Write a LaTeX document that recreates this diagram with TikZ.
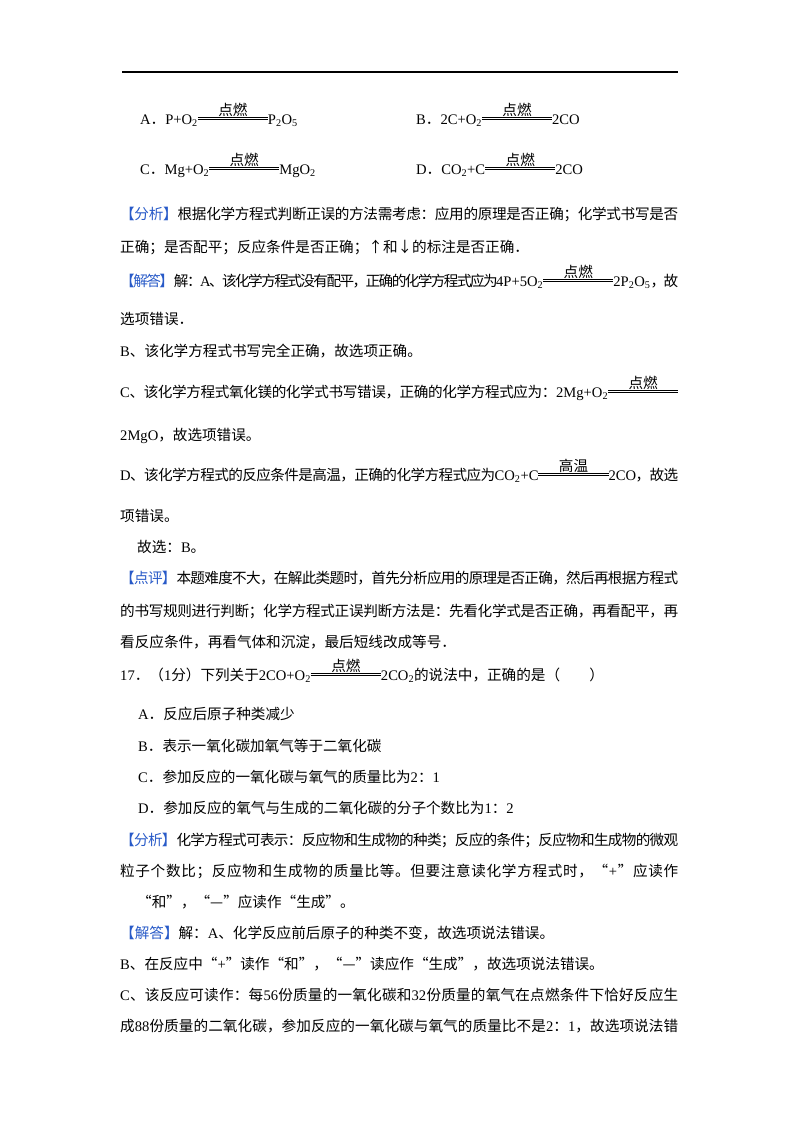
\documentclass[tikz,border=0pt]{standalone}
\usepackage{fontspec}
\setmainfont{Liberation Serif}
\newfontfamily\cjk{Noto Sans CJK SC}
\newfontfamily\lat{Liberation Serif}
\XeTeXinterchartokenstate=1
\newXeTeXintercharclass\cjkclass
\count255="4E00 \loop\XeTeXcharclass\count255=\cjkclass\advance\count255 1 \ifnum\count255<"A000 \repeat
\count255="3000 \loop\XeTeXcharclass\count255=\cjkclass\advance\count255 1 \ifnum\count255<"3040 \repeat
\count255="FF00 \loop\XeTeXcharclass\count255=\cjkclass\advance\count255 1 \ifnum\count255<"FFF0 \repeat
\XeTeXcharclass"201C=\cjkclass \XeTeXcharclass"201D=\cjkclass
\XeTeXcharclass"2014=\cjkclass \XeTeXcharclass"2191=\cjkclass \XeTeXcharclass"2193=\cjkclass
\newcommand\cg{\hskip 0pt plus 3pt minus 2pt\relax}
\XeTeXinterchartoks 0 \cjkclass={\cg\cjk}
\XeTeXinterchartoks 4095 \cjkclass={\cjk}
\XeTeXinterchartoks \cjkclass 0={\lat\cg}
\XeTeXinterchartoks \cjkclass \cjkclass={\cg}
\definecolor{tagblue}{RGB}{40,90,200}
\newcommand\tg[1]{\textcolor{tagblue}{【#1】}}
\newcommand\s[1]{\textsubscript{#1}}
\newcommand\rx[1]{\raisebox{0.3em}{\rlap{\raisebox{0.3em}{\makebox[4.8em]{#1}}}\vbox{\hrule width 4.8em height .5pt\kern1.5pt\hrule height .5pt}}}
\newcommand\full[1]{\makebox[558bp][s]{#1}}
\tikzset{ln/.style={anchor=base west, inner sep=0pt, font=\fontsize{14.6bp}{18bp}\selectfont}}

\begin{document}
\begin{tikzpicture}[x=1bp, y=-1bp]
  \useasboundingbox[fill=white] (0,0) rectangle (800,1132);
  \draw[line width=1.2bp] (122,72) -- (678,72);
  % choices
  \node[ln] (qA) at (140,124) {A．P+O\s{2}\rx{点燃}P\s{2}O\s{5}};
  \node[ln] (qB) at (416,124) {B．2C+O\s{2}\rx{点燃}2CO};
  \node[ln] (qC) at (140,174) {C．Mg+O\s{2}\rx{点燃}MgO\s{2}};
  \node[ln] (qD) at (416,174) {D．CO\s{2}+C\rx{点燃}2CO};
  % analysis
  \node[ln] (a1) at (120,219) {\full{\tg{分析}根据化学方程式判断正误的方法需考虑：应用的原理是否正确；化学式书写是否}};
  \node[ln] (a2) at (120,252) {正确；是否配平；反应条件是否正确；↑和↓的标注是否正确．};
  \node[ln] (j1) at (120,286) {\full{\tg{解答}解：A、该化学方程式没有配平，正确的化学方程式应为4P+5O\s{2}\rx{点燃}2P\s{2}O\s{5}，故}};
  \node[ln] (j2) at (120,324) {选项错误．};
  \node[ln] (j3) at (120,356) {B、该化学方程式书写完全正确，故选项正确。};
  \node[ln] (j4) at (120,397) {\full{C、该化学方程式氧化镁的化学式书写错误，正确的化学方程式应为：2Mg+O\s{2}\rx{点燃}}};
  \node[ln] (j5) at (120,440) {2MgO，故选项错误。};
  \node[ln] (j6) at (120,480) {\full{D、该化学方程式的反应条件是高温，正确的化学方程式应为CO\s{2}+C\rx{高温}2CO，故选}};
  \node[ln] (j7) at (120,521) {项错误。};
  \node[ln] (j8) at (137,552) {故选：B。};
  \node[ln] (p1) at (120,583) {\full{\tg{点评}本题难度不大，在解此类题时，首先分析应用的原理是否正确，然后再根据方程式}};
  \node[ln] (p2) at (120,616) {\full{的书写规则进行判断；化学方程式正误判断方法是：先看化学式是否正确，再看配平，再}};
  \node[ln] (p3) at (120,647) {看反应条件，再看气体和沉淀，最后短线改成等号．};
  % question 17
  \node[ln] (q17) at (120,680) {17．（1分）下列关于2CO+O\s{2}\rx{点燃}2CO\s{2}的说法中，正确的是（　　）};
  \node[ln] (o1) at (138,719) {A．反应后原子种类减少};
  \node[ln] (o2) at (138,751) {B．表示一氧化碳加氧气等于二氧化碳};
  \node[ln] (o3) at (138,782) {C．参加反应的一氧化碳与氧气的质量比为2：1};
  \node[ln] (o4) at (138,813) {D．参加反应的氧气与生成的二氧化碳的分子个数比为1：2};
  \node[ln] (f1) at (120,845) {\full{\tg{分析}化学方程式可表示：反应物和生成物的种类；反应的条件；反应物和生成物的微观}};
  \node[ln] (f2) at (120,876) {\full{粒子个数比；反应物和生成物的质量比等。但要注意读化学方程式时，“+”应读作}};
  \node[ln] (f3) at (137,907) {“和”，“—”应读作“生成”。};
  \node[ln] (s1) at (120,938) {\tg{解答}解：A、化学反应前后原子的种类不变，故选项说法错误。};
  \node[ln] (s2) at (120,969) {B、在反应中“+”读作“和”，“—”读应作“生成”，故选项说法错误。};
  \node[ln] (s3) at (120,1000) {\full{C、该反应可读作：每56份质量的一氧化碳和32份质量的氧气在点燃条件下恰好反应生}};
  \node[ln] (s4) at (120,1031) {\full{成88份质量的二氧化碳，参加反应的一氧化碳与氧气的质量比不是2：1，故选项说法错}};
\end{tikzpicture}
\end{document}
